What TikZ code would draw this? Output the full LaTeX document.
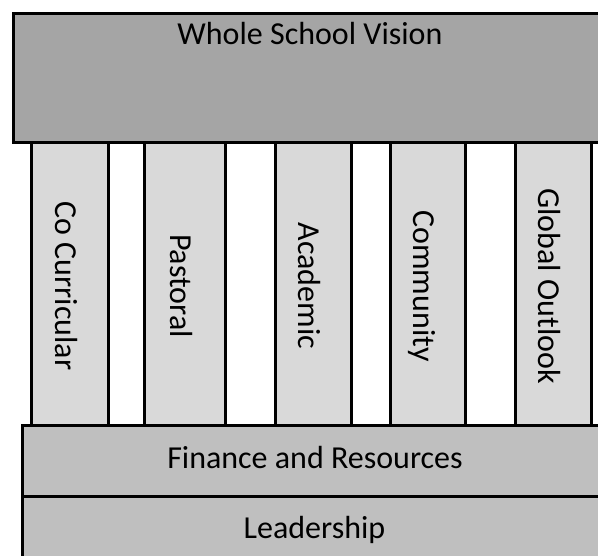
\documentclass[tikz,border=0pt]{standalone}
\usepackage{fontspec}
\setmainfont{Carlito}
\definecolor{visiongray}{HTML}{A5A5A5}
\definecolor{pillargray}{HTML}{D9D9D9}
\definecolor{basegray}{HTML}{BFBFBF}
\begin{document}
\begin{tikzpicture}[x=1pt,y=-1pt,
  boxline/.style={draw=black,line width=3pt},
  label/.style={font=\fontsize{32}{38}\selectfont,anchor=base,inner sep=0pt},
  pillarlabel/.style={label,rotate=-90}]
\useasboundingbox (0,0) rectangle (598,556);
\clip (0,0) rectangle (598,556);
% pillars
\foreach \l/\r in {31.5/108.5,144.5/225,275/351,390/465.5,515.5/591}{
  \path[boxline,fill=pillargray] (\l,143) rectangle (\r,426);
}
% top box
\path[boxline,fill=visiongray] (13.5,13.5) rectangle (640,143);
% bottom boxes
\path[boxline,fill=basegray] (22.3,426) rectangle (640,497);
\path[boxline,fill=basegray] (22.3,497) rectangle (640,620);
% texts
\node[label] (vision) at (310,45) {Whole School Vision};
\node[label] (finance) at (315,469) {Finance and Resources};
\node[label] (leader) at (314.5,539) {Leadership};
\node[pillarlabel] (cocurr) at (55,286) {Co Curricular};
\node[pillarlabel] (pastoral) at (170,286) {Pastoral};
\node[pillarlabel] (academic) at (298,286) {Academic};
\node[pillarlabel] (community) at (413,286) {Community};
\node[pillarlabel] (global) at (538,286) {Global Outlook};
\end{tikzpicture}
\end{document}
